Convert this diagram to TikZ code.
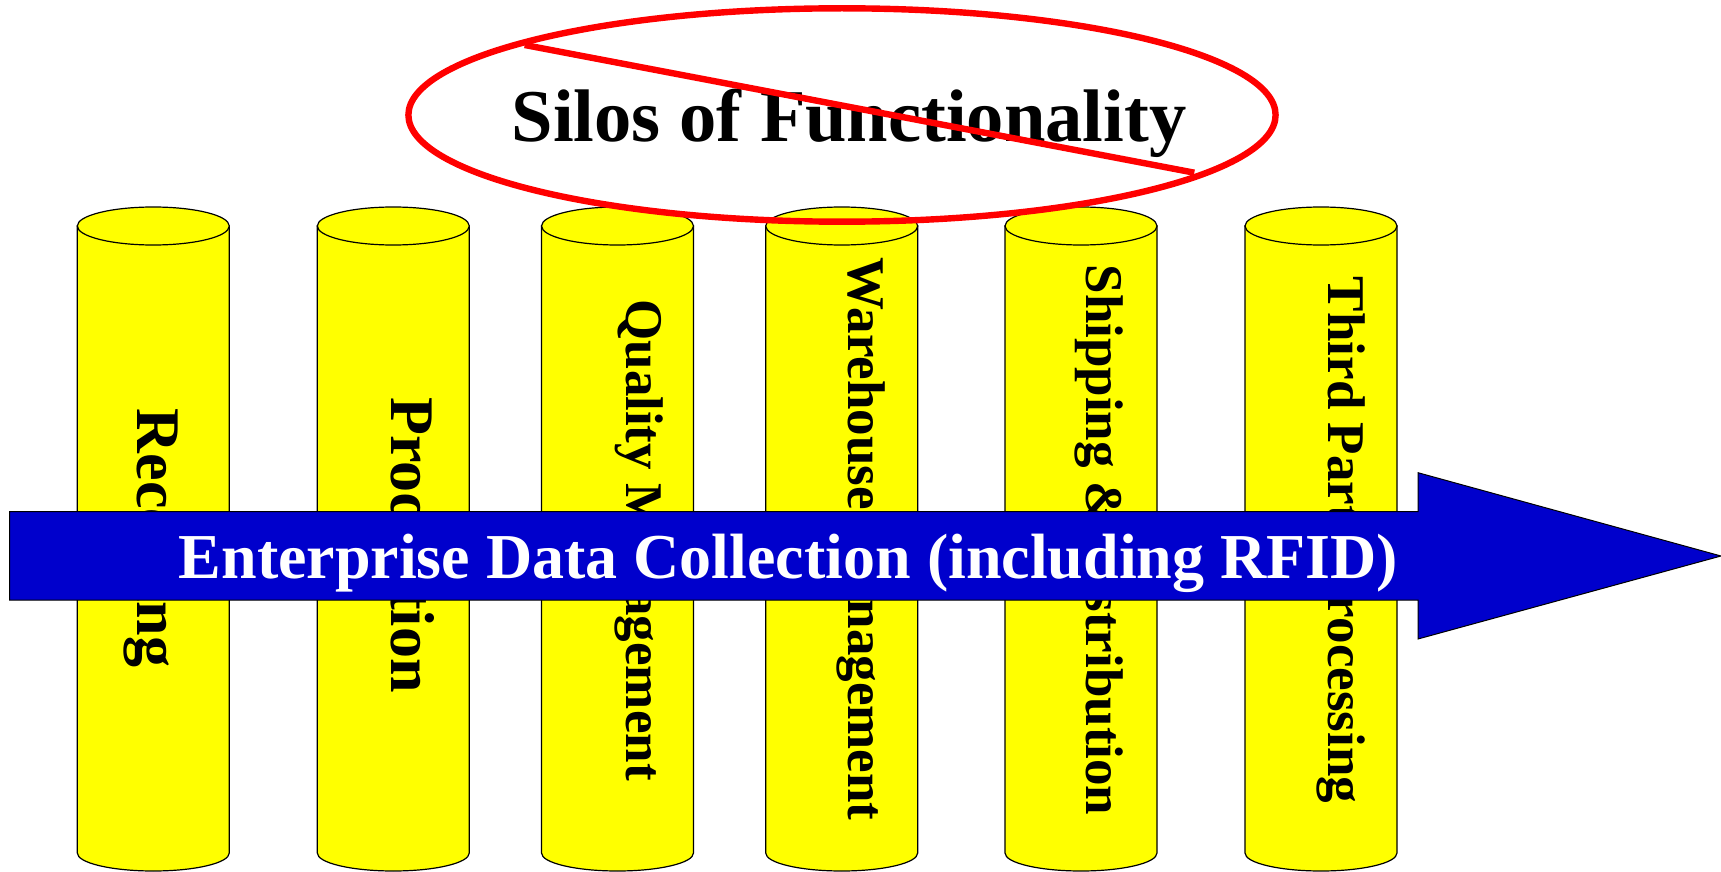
\documentclass[tikz,border=0pt]{standalone}
\usepackage{fontspec}
\setmainfont{Liberation Serif}
\usetikzlibrary{positioning}

\definecolor{siloyellow}{RGB}{255,255,0}
\definecolor{edcblue}{RGB}{0,0,204}
\definecolor{banred}{RGB}{255,0,0}

\begin{document}
\begin{tikzpicture}[x=0.5pt, y=-0.5pt,
  silo/.style={fill=siloyellow, draw=black, line width=0.6pt},
  silolabel/.style={rotate=-90, anchor=base, inner sep=0pt,
               font=\fontsize{26.5}{30}\selectfont\bfseries},
  bigsilolabel/.style={silolabel, font=\fontsize{31}{36}\selectfont\bfseries},
  ban/.style={draw=banred, line width=3.2pt},
  flow/.style={fill=edcblue, draw=black, line width=0.5pt},
  flowlabel/.style={anchor=base, inner sep=0pt, text=white,
               font=\fontsize{32}{36}\selectfont\bfseries},
]
  \useasboundingbox (0,0) rectangle (1721,872);

  % Silos
  \foreach \x in {153.3, 393.3, 617.5, 841.7, 1081, 1321} {
    \path[silo] (\x-76,226) -- (\x-76,853)
      arc[start angle=180, end angle=0, x radius=76, y radius=18] -- (\x+76,226) -- cycle;
    \path[silo] (\x,226) ellipse[x radius=76, y radius=19];
  }

  \node[bigsilolabel] (rec) at (137.3,538) {Receiving};
  \node[bigsilolabel] (prod) at (391.3,545) {Production};
  \node[silolabel] (qm) at (626.7,540) {Quality Management};
  \node[silolabel] (wm) at (848.3,539) {Warehouse Management};
  \node[silolabel] (sd) at (1086.7,540) {Shipping \& Distribution};
  \node[silolabel] (tpp) at (1328,540) {Third Party Processing};

  % Crossed-out title
  \draw[ban] (842,115) ellipse[x radius=433.6, y radius=106.7];
  \node[anchor=base, inner sep=0pt, font=\fontsize{37.25}{42}\selectfont\bfseries]
    (silos) at (849,141.7) {Silos of Functionality};
  \coordinate (banstart) at (524.7,45);
  \coordinate (banend) at (1194.3,172.7);
  \draw[ban] (banstart) -- (banend);

  % Data collection arrow
  \draw[flow] (9.6,511.7) -- (1418,511.7) -- (1418,472.7) -- (1721,556)
    -- (1418,639) -- (1418,600) -- (9.6,600) -- cycle;
  \node[flowlabel] (edc) at (788.5,578.3) {Enterprise Data Collection (including RFID)};
\end{tikzpicture}
\end{document}
